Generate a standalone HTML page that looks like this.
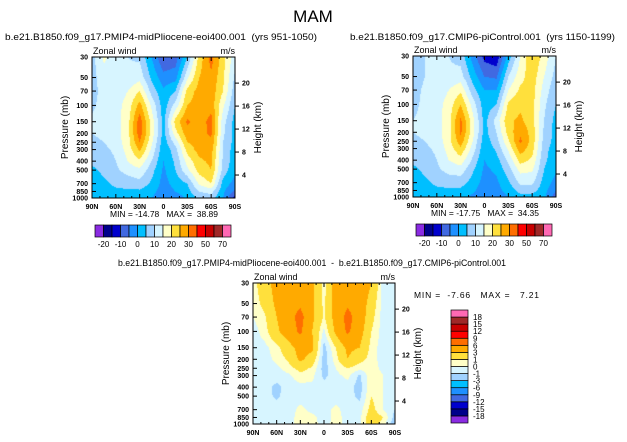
<!DOCTYPE html>
<html><head><meta charset="utf-8">
<style>
html,body{margin:0;padding:0;background:#fff;}
#wrap{position:relative;width:627px;height:442px;overflow:hidden;font-family:"Liberation Sans",sans-serif;}
canvas{position:absolute;}
svg{position:absolute;left:0;top:0;}
svg text{white-space:pre;}
</style></head>
<body>
<div id="wrap">
<canvas id="c1"></canvas>
<canvas id="c2"></canvas>
<canvas id="c3"></canvas>
<svg id="s" width="627" height="442"></svg>
</div>
<script>
const latLabels=['90N','60N','30N','0','30S','60S','90S'];
const pLevels=[30,50,70,100,150,200,250,300,400,500,700,850,1000];
const pTicks=[30,50,70,100,150,200,250,300,400,500,700,850,1000];
const hTicks=[4,8,12,16,20];
// columns: 90N,75N,60N,45N,30N,15N,0,15S,30S,45S,60S,75S,90S ; rows: pLevels
const fieldPliocene=[
[8,16,12,10,9,0,-10,-8,5,22,32,22,12],
[8,13,12,11,13,4,-3,-2,14,25,29,21,9],
[8,12,12,15,20,8,1,5,22,27,28,20,7],
[9,12,13,17,27,14,2,12,25,27,28,16,5],
[11,12,13,18,33,18,3,22,31,27,32,12,3],
[10,11,13,18,33,18,3,18,28,28,31,11,3],
[9,10,12,18,30,16,2,12,25,27,29,10,3],
[8,9,11,17,26,14,1,8,22,27,27,10,2],
[6,7,10,15,19,10,0,6,17,24,26,9,2],
[4,6,9,12,14,7,-1,5,14,22,25,8,1],
[3,4,6,7,8,4,-2,2,5,16,20,3,-2],
[2,3,4,4,4,2,-3,0,3,10,12,1,-6],
[1,1,2,2,1,0,-4,-3,1,6,7,0,-12]];
const fieldControl=[
[7,10,12,10,8,-2,-12,-14,2,15,25,18,10],
[7,10,12,11,12,3,-5,-6,10,18,23,15,8],
[8,11,12,15,19,7,0,0,15,21,22,13,6],
[9,11,13,17,25,13,2,5,21,24,22,11,5],
[10,11,13,18,31,17,3,12,24,26,22,10,3],
[10,11,13,18,31,17,3,10,22,29,23,9,3],
[9,10,12,18,28,15,2,8,19,31,23,8,3],
[8,9,11,17,24,13,1,6,16,28,22,7,2],
[6,7,10,15,18,9,0,3,11,22,19,6,2],
[4,6,9,12,13,6,-1,1,8,17,16,5,1],
[3,4,6,7,7,3,-2,-1,4,11,11,3,-2],
[2,3,4,4,4,1,-3,-2,2,7,7,2,-5],
[1,1,2,2,1,-1,-4,-3,0,3,3,1,-8]];
const fieldDiff=[
[0.5,2,4,5,5,3.5,0.5,4,5,5,3,-0.5,-0.5],
[0.3,1.5,3.5,5,5.5,3.5,0.6,4,5.5,4.5,2,-0.5,-0.5],
[0,0.8,3,4.8,7,3.5,0.8,4,7,4.5,1.5,-0.5,-0.5],
[-0.5,0.5,2.5,4.5,6.5,3,-0.3,3.5,6.5,4,1,-0.5,-0.5],
[-0.5,-0.3,0.6,2,4,3.5,-1.5,1,3.5,3,0.5,-0.5,-0.5],
[-0.5,-0.5,0.3,1.2,3.5,2,-1.5,0.5,3,1.5,0.5,-0.5,-0.5],
[-0.5,-0.5,-0.3,0.5,1.5,0.8,-1.5,0,1,0.3,0.5,-0.3,-0.5],
[-0.5,-0.5,-0.5,-0.2,0.6,0.3,-1.3,-0.3,0.3,-1.2,0.8,0,-0.5],
[-0.5,-0.6,-1.3,-0.5,-0.3,-0.3,-0.5,-0.5,-0.5,-1.5,0.8,0,-0.5],
[-0.5,-0.6,-1.2,-0.5,-0.5,-0.5,-0.5,-0.5,-0.5,-1.3,1,0,-0.5],
[-0.5,-0.5,-0.5,-0.5,0.3,-0.3,-0.5,0.3,-0.5,-0.5,1.5,0,-1],
[-0.5,-0.5,-0.5,-0.3,0.3,0.3,-0.5,0.3,-0.3,-0.3,2,1,-1.5],
[-0.5,-0.5,-0.5,-0.3,0.3,0.3,-0.3,0.3,-0.3,-0.3,2,0.5,-2]];
const levelsWind=[-20,-15,-10,-5,0,5,10,15,20,25,30,40,50,60,70];
const labelsWind=['-20','-10','0','10','20','30','50','70'];
const levelsDiff=[-18,-15,-12,-9,-6,-3,-1,0,1,3,6,9,12,15,18];
const colors=['#8a2be2','#00008b','#0000cd','#4169e1','#1e90ff','#00bfff','#a0d2ff','#d7f5ff','#ffffc8','#ffe03c','#ffaa00','#ff6e00','#ff0000','#c80000','#a02828','#ff69b4'];
const minmax1=['-14.78','38.89'],minmax2=['-17.75','34.35'],minmax3=['-7.66','7.21'];

const NS='http://www.w3.org/2000/svg';
const svg=document.getElementById('s');
function mk(tag,attrs,txt){const e=document.createElementNS(NS,tag);for(const k in attrs)e.setAttribute(k,attrs[k]);if(txt!==undefined)e.textContent=txt;svg.appendChild(e);return e;}
const LN=Math.log(1000/30);
function colorFor(v,lev){let i=0;while(i<lev.length&&v>=lev[i])i++;return colors[i];}
function yOfP(P,p){return P.y0+P.h*Math.log(p/30)/LN;}
function interp(field,fx,p){
  const lp=Math.log(p);let i=0;
  while(i<pLevels.length-2&&p>pLevels[i+1])i++;
  const t=(lp-Math.log(pLevels[i]))/(Math.log(pLevels[i+1])-Math.log(pLevels[i]));
  const c=Math.min(11,Math.floor(fx)),s=fx-c;
  const a=field[i][c]*(1-s)+field[i][c+1]*s,b=field[i+1][c]*(1-s)+field[i+1][c+1]*s;
  return a*(1-t)+b*t;
}
function drawField(id,P,field,lev){
  const cv=document.getElementById(id);cv.width=P.w;cv.height=P.h;cv.style.left=P.x0+'px';cv.style.top=P.y0+'px';
  const ctx=cv.getContext('2d');
  for(let py=0;py<P.h;py++){const p=30*Math.exp((py+0.5)/P.h*LN);
    for(let px=0;px<P.w;px++){const fx=(px+0.5)/P.w*12;ctx.fillStyle=colorFor(interp(field,fx,p),lev);ctx.fillRect(px,py,1,1);}}
}
function axes(P,tag){
  const r=mk('rect',{x:P.x0,y:P.y0,width:P.w,height:P.h,fill:'none',stroke:'#000','stroke-width':1});
  
  for(let d=0;d<=180;d+=10){const x=P.x0+P.w*d/180,L=d%30===0?4:2;
    mk('line',{x1:x,y1:P.y0+P.h,x2:x,y2:P.y0+P.h-L,stroke:'#000'});mk('line',{x1:x,y1:P.y0,x2:x,y2:P.y0+L,stroke:'#000'});}
  latLabels.forEach((l,i)=>{const t=mk('text',{x:P.x0+P.w*i/6,y:P.y0+P.h+11,'font-size':7,'font-weight':'bold','text-anchor':'middle'},l);
    });
  pTicks.forEach(p=>{const y=yOfP(P,p);mk('line',{x1:P.x0,y1:y,x2:P.x0+4,y2:y,stroke:'#000'});
    const t=mk('text',{x:P.x0-4,y:y+2.5,'font-size':7,'font-weight':'bold','text-anchor':'end'},String(p));
    });
  hTicks.forEach(z=>{const y=yOfP(P,1000*Math.exp(-z/7));mk('line',{x1:P.x0+P.w,y1:y,x2:P.x0+P.w+4,y2:y,stroke:'#000'});
    const t=mk('text',{x:P.x0+P.w+7,y:y+2.5,'font-size':7,'font-weight':'bold'},String(z));
    });
  const cy=P.y0+P.h/2;
  let t=mk('text',{x:0,y:0,'font-size':10,'text-anchor':'middle',transform:`translate(${P.x0-24},${cy}) rotate(-90)`},'Pressure (mb)');
  
  t=mk('text',{x:0,y:0,'font-size':10,'text-anchor':'middle',transform:`translate(${P.x0+P.w+26},${cy}) rotate(-90)`},'Height (km)');
  
  t=mk('text',{x:P.x0+1,y:P.y0-3,'font-size':9},'Zonal wind');
  
  t=mk('text',{x:P.x0+P.w,y:P.y0-3,'font-size':9,'text-anchor':'end'},'m/s');
  
}
function hbar(x0,y0,w,h,tag){
  const bw=w/colors.length;
  colors.forEach((c,i)=>{const r=mk('rect',{x:x0+i*bw,y:y0,width:bw,height:h,fill:c,stroke:'#000','stroke-width':0.7});
    });
  labelsWind.forEach((l,j)=>{const t=mk('text',{x:x0+(1+2*j)*bw,y:y0+h+10,'font-size':8,'text-anchor':'middle'},l);
    });
}
const P1={x0:92,y0:57,w:143,h:141},P2={x0:413,y0:56,w:143,h:141},P3={x0:253,y0:283,w:142,h:141};
drawField('c1',P1,fieldPliocene,levelsWind);
drawField('c2',P2,fieldControl,levelsWind);
drawField('c3',P3,fieldDiff,levelsDiff);
axes(P1,'pliocene');axes(P2,'picontrol');axes(P3,'difference');
hbar(95,225,136,12,'pliocene');hbar(416,224,136,12,'picontrol');
(function(){const x0=451,y0=310,w=17,h=113,bh=h/colors.length;
  colors.forEach((c,i)=>{const r=mk('rect',{x:x0,y:y0+h-(i+1)*bh,width:w,height:bh,fill:c,stroke:'#000','stroke-width':0.7});
    });
  levelsDiff.forEach((v,i)=>{const t=mk('text',{x:x0+w+5,y:y0+h-(i+1)*bh+3,'font-size':8},String(v));
    });
})();
let t;
t=mk('text',{x:313,y:22,'font-size':17,'text-anchor':'middle'},'MAM');

t=mk('text',{x:5,y:40,'font-size':9.5,textLength:312,lengthAdjust:'spacingAndGlyphs'},'b.e21.B1850.f09_g17.PMIP4-midPliocene-eoi400.001  (yrs 951-1050)');

t=mk('text',{x:350,y:40,'font-size':9.5,textLength:265,lengthAdjust:'spacingAndGlyphs'},'b.e21.B1850.f09_g17.CMIP6-piControl.001  (yrs 1150-1199)');

t=mk('text',{x:118,y:266,'font-size':9.5,textLength:388,lengthAdjust:'spacingAndGlyphs'},'b.e21.B1850.f09_g17.PMIP4-midPliocene-eoi400.001  -  b.e21.B1850.f09_g17.CMIP6-piControl.001');

t=mk('text',{x:110,y:217,'font-size':8.5,textLength:108,lengthAdjust:'spacing'},'MIN = '+minmax1[0]+'   MAX =  '+minmax1[1]);

t=mk('text',{x:431,y:216,'font-size':8.5,textLength:108,lengthAdjust:'spacing'},'MIN = '+minmax2[0]+'   MAX =  '+minmax2[1]);

t=mk('text',{x:414,y:298,'font-size':8.5,textLength:125,lengthAdjust:'spacing'},'MIN =  '+minmax3[0]+'   MAX =   '+minmax3[1]);

</script>
</body></html>
